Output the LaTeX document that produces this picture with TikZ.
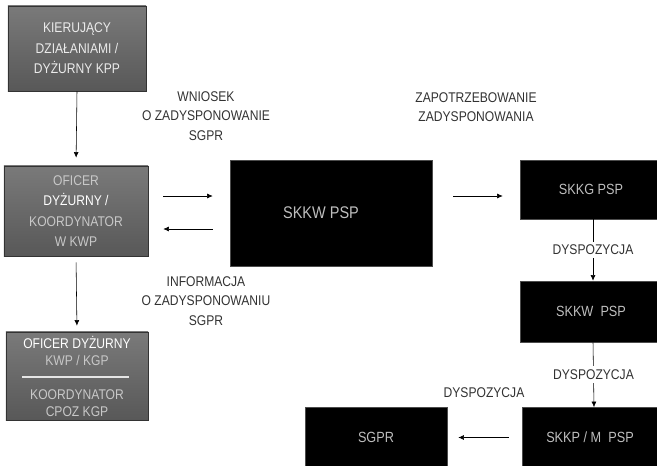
\documentclass[tikz,border=0pt]{standalone}
\usepackage{fontspec}
\setmainfont{Liberation Sans}[FakeStretch=0.86]
\usepackage{tikz}
\usetikzlibrary{arrows.meta,calc,positioning}
\definecolor{boxgrey}{RGB}{128,128,128}
\definecolor{boxdark}{RGB}{88,88,88}
\definecolor{paletext}{RGB}{200,200,200}
\definecolor{darktext}{RGB}{190,190,190}
\definecolor{labeltext}{RGB}{50,50,50}
\tikzset{every node/.append style={align=center}}
\tikzset{
  greybox/.style={draw=black!80, thin, top color=boxgrey!105, bottom color=boxdark,
    inner sep=0pt, font=\fontsize{10}{14.5}\selectfont, text=paletext},
  blackbox/.style={draw=black!70, fill=black, inner sep=0pt,
    font=\fontsize{10.5}{14}\selectfont, text=darktext},
  lbl/.style={font=\fontsize{10}{13.8}\selectfont, text=labeltext},
  arr/.style={-{Latex[length=4pt,width=3.5pt]}, thin, black}
}

\begin{document}
\begin{tikzpicture}[x=0.025cm, y=-0.025cm]

  \useasboundingbox (0,0) rectangle (657,466);

  % === LEFT COLUMN (grey boxes) ===
  \node[greybox, minimum width=3.45cm, minimum height=2.125cm] (kier) at (77,48.5)
    {\color{white!92!black}KIERUJĄCY\\ \color{white!92!black}DZIAŁANIAMI /\\
     \color{white!92!black}DYŻURNY KPP};
  \node[greybox, minimum width=3.6cm, minimum height=2.25cm] (oficer) at (76,211)
    {OFICER\\ \textcolor{white}{DYŻURNY /}\\ KOORDYNATOR\\ W KWP};
  \node[greybox, minimum width=3.55cm, minimum height=2.2cm,
    font=\fontsize{10}{12.5}\selectfont] (kgp) at (77,376) {};
  \node[text=white, font=\fontsize{10}{12.5}\selectfont, align=center]
    (kgptop) at (77,351) {OFICER DYŻURNY\\ \textcolor{paletext}{KWP / KGP}};
  \node[text=paletext, font=\fontsize{10}{12.5}\selectfont, align=center]
    (kgpbot) at (77,403) {KOORDYNATOR\\ CPOZ KGP};
  \draw[white!90!black, line width=1pt] (22,377) -- (129,377);

  \draw[arr, shorten >=8*0.025cm] (kier.south) -- (oficer.north);
  \draw[arr, shorten <=6*0.025cm, shorten >=6*0.025cm] (oficer.south) -- (kgp.north);

  % === CENTRE ===
  \node[blackbox, minimum width=5.05cm, minimum height=2.65cm,
    label={[blackbox, draw=none, xshift=-0.25cm, font=\fontsize{12}{14}\selectfont]center:SKKW PSP}]
    (skkw) at (331,213) {};

  \draw[arr, shorten <=15*0.025cm, shorten >=17*0.025cm]
    (oficer.east |- 0,196) -- (skkw.west |- 0,196);
  \draw[arr, shorten <=17*0.025cm, shorten >=15*0.025cm]
    (skkw.west |- 0,229) -- (oficer.east |- 0,229);

  \node[lbl] (wniosek) at (206,116) {WNIOSEK\\ O ZADYSPONOWANIE\\ SGPR};
  \node[lbl] (informacja) at (206,301) {INFORMACJA\\ O ZADYSPONOWANIU\\ SGPR};
  \node[lbl] (zapotrz) at (476,107) {ZAPOTRZEBOWANIE\\ ZADYSPONOWANIA};

  % === RIGHT COLUMN (black boxes) ===
  \node[blackbox, minimum width=3.45cm, minimum height=1.475cm] (skkg) at (589,189.5)
    {\hspace*{0.1cm}SKKG PSP};
  \node[blackbox, minimum width=3.45cm, minimum height=1.525cm] (skkwb) at (589,311.5)
    {\hspace*{0.1cm}SKKW~ PSP};
  \node[blackbox, minimum width=3.4cm, minimum height=1.5cm] (skkp) at (590,437.5)
    {SKKP / M~ PSP};
  \node[blackbox, minimum width=3.55cm, minimum height=1.5cm] (sgpr) at (376,437.5) {SGPR};

  \draw[arr, shorten <=21*0.025cm, shorten >=17*0.025cm]
    (skkw.east |- 0,196) -- (skkg.west |- 0,196);

  \foreach \from/\to in {skkg/skkwb, skkwb/skkp} {
    \draw[arr] ([xshift=0.1cm]\from.south) --
      node[lbl, fill=white, inner sep=2.5pt] {DYSPOZYCJA} ([xshift=0.1cm]\to.north);
  }

  \draw[arr, shorten <=13*0.025cm, shorten >=11*0.025cm] (skkp.west) -- (sgpr.east);
  \node[lbl] (dysp) at (484,393) {DYSPOZYCJA};

\end{tikzpicture}
\end{document}
